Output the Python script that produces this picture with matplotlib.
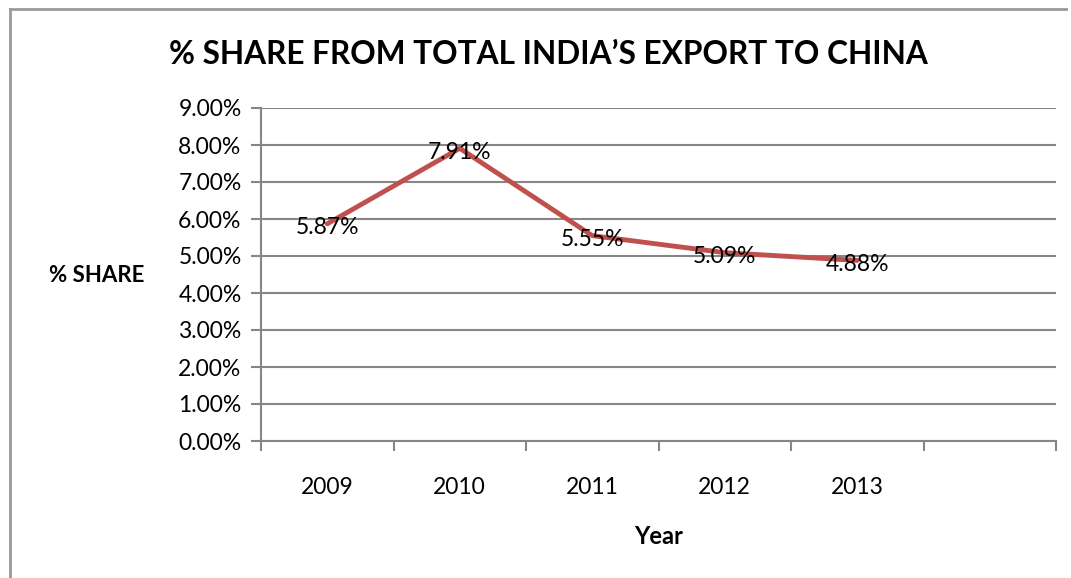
import numpy as np
import matplotlib.pyplot as plt
from matplotlib.ticker import FixedLocator, NullFormatter

years = ['2009', '2010', '2011', '2012', '2013']
share = [5.87, 7.91, 5.55, 5.09, 4.88]
yticks = [0, 1, 2, 3, 4, 5, 6, 7, 8, 9]

plt.rcParams['font.family'] = ['Lato', 'DejaVu Sans']
gray = '#868686'

fig = plt.figure(figsize=(10.71, 5.78), dpi=100)
ax = fig.add_axes([261/1071, 1-441/578, (1056-261)/1071, (441-108)/578])

x = np.arange(len(years))
ax.plot(x, share, color='#C0504D', lw=3.5, solid_capstyle='round', zorder=3)
for xi, v in zip(x, share):
    ax.annotate('%.2f%%' % v, (xi, v), xytext=(0, -3), textcoords='offset points',
                ha='center', va='center', fontsize=16.5, zorder=4)

ax.set_xlim(-0.5, 5.5)
ax.set_ylim(0, 9)
ax.set_yticks(yticks)
ax.set_yticklabels(['%.2f%%' % t for t in yticks], fontsize=16.5)
ax.xaxis.set_major_locator(FixedLocator(np.arange(-0.5, 6, 1)))
ax.xaxis.set_major_formatter(NullFormatter())
ax.xaxis.set_minor_locator(FixedLocator(x))
ax.set_xticklabels(years, minor=True, fontsize=16.5)
ax.tick_params(axis='x', which='minor', length=0, pad=26)
ax.tick_params(axis='both', which='major', length=7, width=1.5, color=gray)
ax.tick_params(axis='y', pad=7)
ax.grid(axis='y', color=gray, lw=1.5)
ax.set_axisbelow(True)
for s in ['top', 'right']:
    ax.spines[s].set_visible(False)
for s in ['left', 'bottom']:
    ax.spines[s].set_color(gray)
    ax.spines[s].set_linewidth(1.5)

fig.text(548/1071, 1-55/578, '% SHARE FROM TOTAL INDIA\u2019S EXPORT TO CHINA',
         ha='center', va='center', fontsize=22.8, fontweight='bold')
fig.text(97/1071, 1-275/578, '% SHARE', ha='center', va='center', fontsize=16, fontweight='bold')
fig.text(659/1071, 1-537/578, 'Year', ha='center', va='center', fontsize=17, fontweight='bold')

# outer border (left and top only)
fig.add_artist(plt.Line2D([10/1071, 10/1071], [0, 1-9/578], color='#999999', lw=2, transform=fig.transFigure))
fig.add_artist(plt.Line2D([10/1071, 1066/1071], [1-9/578, 1-9/578], color='#999999', lw=2, transform=fig.transFigure))

fig.savefig('out.png', dpi=100)
